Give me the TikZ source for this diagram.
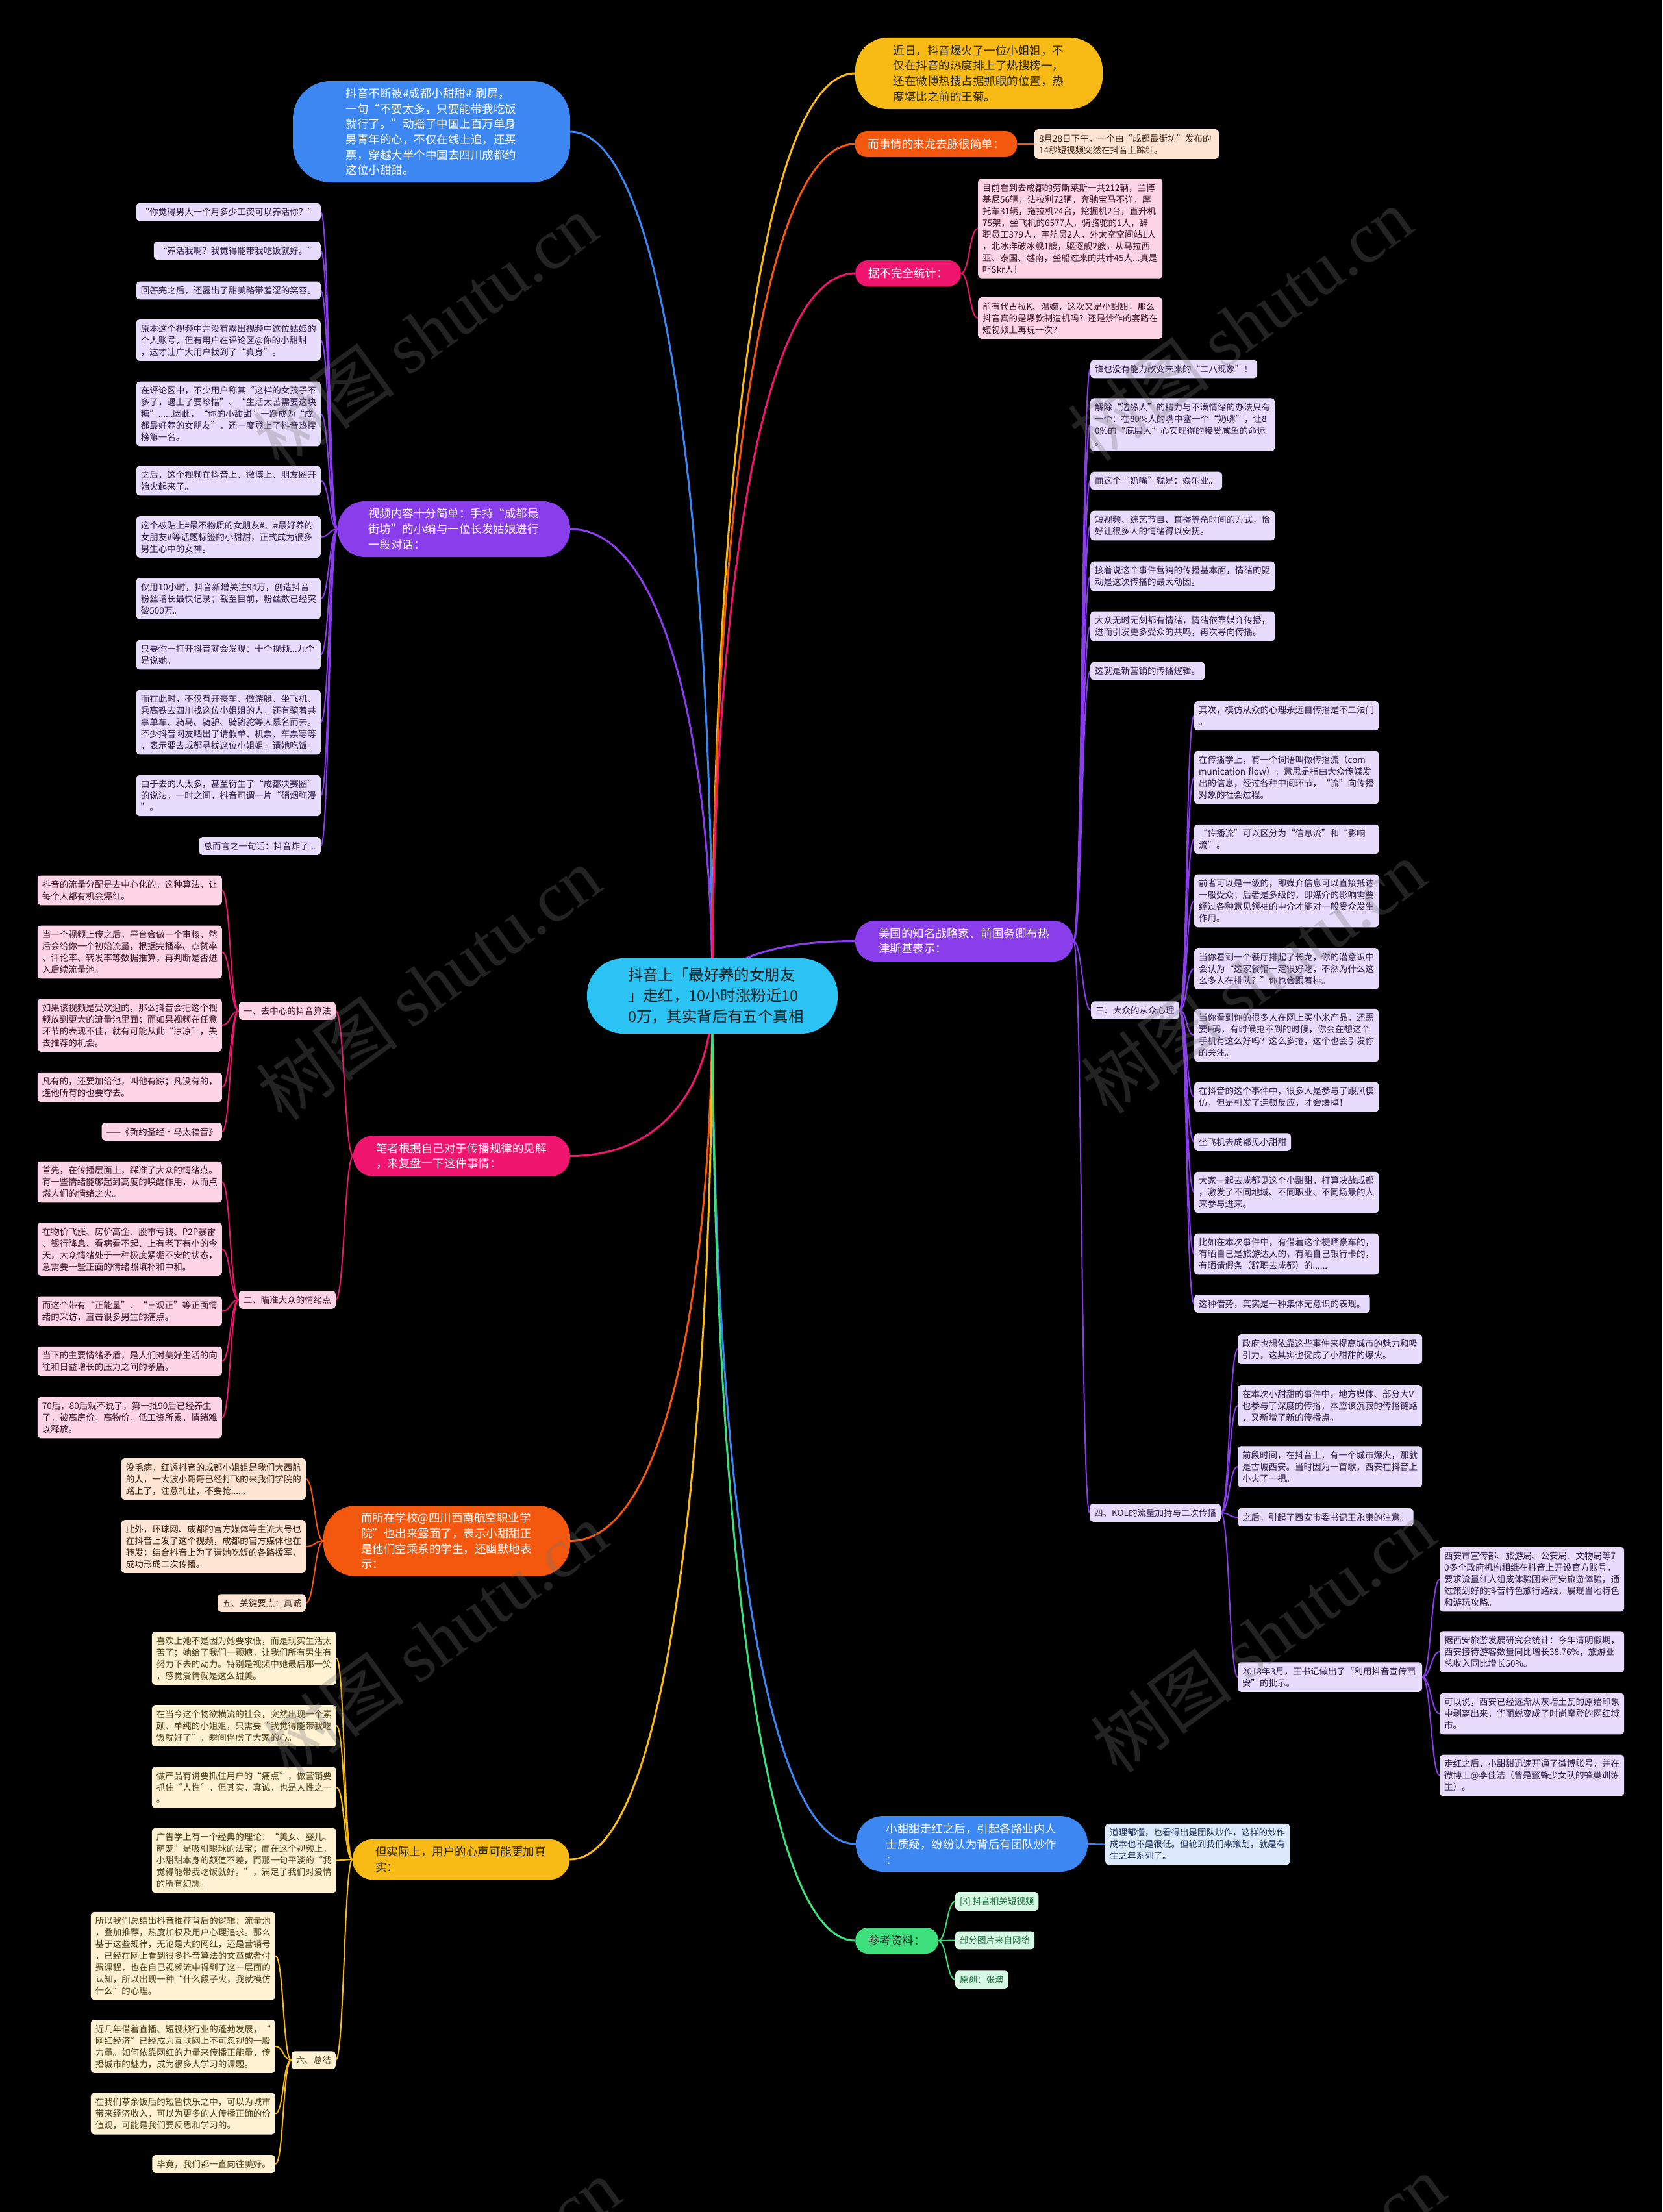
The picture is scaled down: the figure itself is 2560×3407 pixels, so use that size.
\documentclass[tikz,border=0pt]{standalone}
\usepackage{fontspec}
\setmainfont{Noto Sans CJK SC}
\newfontfamily\wmlatin{Liberation Serif}
\usetikzlibrary{calc}
\pgfdeclarelayer{bg}
\pgfdeclarelayer{fg}
\pgfsetlayers{bg,main,fg}
\definecolor{croot}{HTML}{2BC3F3}
\definecolor{cblue}{HTML}{3D87F2}
\definecolor{cpur}{HTML}{8A3DEB}
\definecolor{cpink}{HTML}{F0156F}
\definecolor{corg}{HTML}{F4580F}
\definecolor{cyel}{HTML}{F8BB16}
\definecolor{cgrn}{HTML}{3DE07D}
\definecolor{lpur}{HTML}{E7DBFC}
\definecolor{lpink}{HTML}{FDD3E6}
\definecolor{lorg}{HTML}{FDE4D3}
\definecolor{lyel}{HTML}{FEF2D2}
\definecolor{lblue}{HTML}{DCE8FC}
\definecolor{lgrn}{HTML}{D5F8E2}
\definecolor{tpur}{HTML}{2A1B45}
\definecolor{tpink}{HTML}{3A1022}
\definecolor{torg}{HTML}{3A1E0E}
\definecolor{tyel}{HTML}{4A3A12}
\definecolor{tblue}{HTML}{1C2E55}
\definecolor{tgrn}{HTML}{1D6B3C}
\definecolor{wm}{HTML}{767676}
\tikzset{
  leaf/.style={rounded corners=5pt, inner xsep=7pt, inner ysep=7.5pt, font=\fontsize{13.5}{18}\selectfont, align=left},
  ml/.style={text width=270pt},
  lpu/.style={leaf, fill=lpur, text=tpur},
  lpk/.style={leaf, fill=lpink, text=tpink},
  lor/.style={leaf, fill=lorg, text=torg},
  lye/.style={leaf, fill=lyel, text=tyel},
  lbl/.style={leaf, fill=lblue, text=tblue},
  lgr/.style={leaf, fill=lgrn, text=tgrn},
  mainnode/.style={font=\fontsize{17.5}{23.7}\selectfont, align=left, text width=264pt, inner sep=0pt},
  mainone/.style={font=\fontsize{17.5}{23.7}\selectfont, inner xsep=20pt, inner ysep=0pt, minimum height=40pt, rounded corners=19pt},
  conn/.style={line width=2pt},
  rconn/.style={line width=3pt},
}
\newcommand\rlink[2]{\draw[rconn,#1] (root.center) .. controls ($(root.center)!0.5!(root.center|-#2)$) and ($(root.center|-#2)!0.3!(#2)$) .. (#2);}
\newcommand\lkL[3]{\draw[conn,#1] (#2.west) .. controls +(-13,0) and +(13,0) .. (#3.east);}
\newcommand\lkR[3]{\draw[conn,#1] (#2.east) .. controls +(13,0) and +(-13,0) .. (#3.west);}
\begin{document}
\begin{tikzpicture}[x=1pt,y=-1pt]
\path[use as bounding box] (0,0) rectangle (2560,3407);

% root
\node[font=\fontsize{23.4}{32}\selectfont, align=left, text width=260pt, inner sep=0pt, minimum width=386pt, minimum height=116pt, rounded corners=56pt, fill=croot, text=black!88] (root) at (1097,1534) {抖音上「最好养的女朋友\\」走红，10小时涨粉近10\\0万，其实背后有五个真相};

% ---------- left main nodes
\node[mainnode, fill=cblue, text=white, minimum width=427pt, minimum height=156pt, rounded corners=58pt] (nB1) at (664.5,203) {抖音不断被\#成都小甜甜\# 刷屏，\\一句“不要太多，只要能带我吃饭\\就行了。”动摇了中国上百万单身\\男青年的心，不仅在线上追，还买\\票，穿越大半个中国去四川成都约\\这位小甜甜。};
\node[mainnode, fill=cpur, text=white, minimum width=358pt, minimum height=86pt, rounded corners=42pt] (nV) at (699,815) {视频内容十分简单：手持“成都最\\街坊”的小编与一位长发姑娘进行\\一段对话：};
\node[mainnode, fill=cpink, text=white, minimum width=334pt, minimum height=63pt, rounded corners=31pt] (nP) at (711,1780.5) {笔者根据自己对于传播规律的见解\\，来复盘一下这件事情：};
\node[mainnode, fill=corg, text=white, minimum width=380pt, minimum height=109pt, rounded corners=50pt] (nO) at (688,2373.5) {而所在学校@四川西南航空职业学\\院”也出来露面了，表示小甜甜正\\是他们空乘系的学生，还幽默地表\\示：};
\node[mainnode, fill=cyel, text=black!85, minimum width=334pt, minimum height=62pt, rounded corners=30pt] (nY) at (710,2864) {但实际上，用户的心声可能更加真\\实：};

% ---------- right main nodes
\node[mainnode, fill=cyel, text=black!85, minimum width=381pt, minimum height=110pt, rounded corners=50pt] (nR1) at (1507.5,113) {近日，抖音爆火了一位小姐姐，不\\仅在抖音的热度排上了热搜榜一，\\还在微博热搜占据抓眼的位置，热\\度堪比之前的王菊。};
\node[mainone, fill=corg, text=white] (nR2) at (1441.5,222) {而事情的来龙去脉很简单：};
\node[mainone, fill=cpink, text=white] (nR3) at (1398.5,421) {据不完全统计：};
\node[mainnode, fill=cpur, text=white, minimum width=336pt, minimum height=63pt, rounded corners=31pt] (nUS) at (1485,1449.5) {美国的知名战略家、前国务卿布热\\津斯基表示：};
\node[mainnode, fill=cblue, text=white, minimum width=357pt, minimum height=86pt, rounded corners=42pt] (nBL) at (1496.5,2840) {小甜甜走红之后，引起各路业内人\\士质疑，纷纷认为背后有团队炒作\\：};
\node[mainone, fill=cgrn, text=black!85] (nG) at (1381,2989) {参考资料：};

% ---------- purple left leaves
\node[lpu, anchor=east] (L1) at (494,326.5) {“你觉得男人一个月多少工资可以养活你？”};
\node[lpu, anchor=east] (L2) at (494,386) {“养活我啊？我觉得能带我吃饭就好。”};
\node[lpu, anchor=east] (L3) at (494,447.5) {回答完之后，还露出了甜美略带羞涩的笑容。};
\node[lpu, ml, anchor=east] (L4) at (494,524) {原本这个视频中并没有露出视频中这位姑娘的\\个人账号，但有用户在评论区@你的小甜甜\\，这才让广大用户找到了“真身”。};
\node[lpu, ml, anchor=east] (L5) at (494,637.5) {在评论区中，不少用户称其“这样的女孩子不\\多了，遇上了要珍惜”、“生活太苦需要这块\\糖”......因此，“你的小甜甜”一跃成为“成\\都最好养的女朋友”，还一度登上了抖音热搜\\榜第一名。};
\node[lpu, ml, anchor=east] (L6) at (494,740.5) {之后，这个视频在抖音上、微博上、朋友圈开\\始火起来了。};
\node[lpu, ml, anchor=east] (L7) at (494,827) {这个被贴上\#最不物质的女朋友\#、\#最好养的\\女朋友\#等话题标签的小甜甜，正式成为很多\\男生心中的女神。};
\node[lpu, ml, anchor=east] (L8) at (494,922) {仅用10小时，抖音新增关注94万，创造抖音\\粉丝增长最快记录；截至目前，粉丝数已经突\\破500万。};
\node[lpu, ml, anchor=east] (L9) at (494,1008.5) {只要你一打开抖音就会发现：十个视频...九个\\是说她。};
\node[lpu, ml, anchor=east] (L10) at (494,1112.5) {而在此时，不仅有开豪车、做游艇、坐飞机、\\乘高铁去四川找这位小姐姐的人，还有骑着共\\享单车、骑马、骑驴、骑骆驼等人慕名而去。\\不少抖音网友晒出了请假单、机票、车票等等\\，表示要去成都寻找这位小姐姐，请她吃饭。};
\node[lpu, ml, anchor=east] (L11) at (494,1225.5) {由于去的人太多，甚至衍生了“成都决赛圈”\\的说法，一时之间，抖音可谓一片“硝烟弥漫\\”。};
\node[lpu, anchor=east] (L12) at (494,1303) {总而言之一句话：抖音炸了...};

% ---------- pink left
\node[lpk, anchor=east] (S1) at (517,1557) {一、去中心的抖音算法};
\node[lpk, anchor=east] (S2) at (517,2002) {二、瞄准大众的情绪点};
\node[lpk, ml, anchor=east] (A1) at (342,1371.5) {抖音的流量分配是去中心化的，这种算法，让\\每个人都有机会爆红。};
\node[lpk, ml, anchor=east] (A2) at (342,1466.5) {当一个视频上传之后，平台会做一个审核，然\\后会给你一个初始流量，根据完播率、点赞率\\、评论率、转发率等数据推算，再判断是否进\\入后续流量池。};
\node[lpk, ml, anchor=east] (A3) at (342,1579) {如果该视频是受欢迎的，那么抖音会把这个视\\频放到更大的流量池里面；而如果视频在任意\\环节的表现不佳，就有可能从此“凉凉”，失\\去推荐的机会。};
\node[lpk, ml, anchor=east] (A4) at (342,1674.5) {凡有的，还要加给他，叫他有餘；凡没有的，\\连他所有的也要夺去。};
\node[lpk, anchor=east] (A5) at (342,1743) {——《新约圣经·马太福音》};
\node[lpk, ml, anchor=east] (B1) at (342,1820.5) {首先，在传播层面上，踩准了大众的情绪点。\\有一些情绪能够起到高度的唤醒作用，从而点\\燃人们的情绪之火。};
\node[lpk, ml, anchor=east] (B2) at (342,1924) {在物价飞涨、房价高企、股市亏钱、P2P暴雷\\、银行降息、看病看不起、上有老下有小的今\\天，大众情绪处于一种极度紧绷不安的状态，\\急需要一些正面的情绪照填补和中和。};
\node[lpk, ml, anchor=east] (B3) at (342,2019.5) {而这个带有“正能量”、“三观正”等正面情\\绪的采访，直击很多男生的痛点。};
\node[lpk, ml, anchor=east] (B4) at (342,2096.5) {当下的主要情绪矛盾，是人们对美好生活的向\\往和日益增长的压力之间的矛盾。};
\node[lpk, ml, anchor=east] (B5) at (342,2183.5) {70后，80后就不说了，第一批90后已经养生\\了，被高房价，高物价，低工资所累，情绪难\\以释放。};

% ---------- orange left
\node[lor, ml, anchor=east] (C1) at (471,2278) {没毛病，红透抖音的成都小姐姐是我们大西航\\的人，一大波小哥哥已经打飞的来我们学院的\\路上了，注意礼让，不要抢......};
\node[lor, ml, anchor=east] (C2) at (471,2382) {此外，环球网、成都的官方媒体等主流大号也\\在抖音上发了这个视频，成都的官方媒体也在\\转发；结合抖音上为了请她吃饭的各路援军，\\成功形成二次传播。};
\node[lor, anchor=east] (C3) at (471,2469) {五、关键要点：真诚};

% ---------- yellow left
\node[lye, ml, anchor=east] (D1) at (518,2554) {喜欢上她不是因为她要求低，而是现实生活太\\苦了；她给了我们一颗糖，让我们所有男生有\\努力下去的动力。特别是视频中她最后那一笑\\，感觉爱情就是这么甜美。};
\node[lye, ml, anchor=east] (D2) at (518,2658) {在当今这个物欲横流的社会，突然出现一个素\\颜、单纯的小姐姐，只需要“我觉得能带我吃\\饭就好了”，瞬间俘虏了大家的心。};
\node[lye, ml, anchor=east] (D3) at (518,2753) {做产品有讲要抓住用户的“痛点”，做营销要\\抓住“人性”，但其实，真诚，也是人性之一\\。};
\node[lye, ml, anchor=east] (D4) at (518,2865.5) {广告学上有一个经典的理论：“美女、婴儿、\\萌宠”是吸引眼球的法宝；而在这个视频上，\\小甜甜本身的颜值不差，而那一句平淡的“我\\觉得能带我吃饭就好。”，满足了我们对爱情\\的所有幻想。};
\node[lye, anchor=east] (S6) at (517,3173) {六、总结};
\node[lye, ml, anchor=east] (E1) at (424,3012.5) {所以我们总结出抖音推荐背后的逻辑：流量池\\，叠加推荐，热度加权及用户心理追求。那么\\基于这些规律，无论是大的网红，还是营销号\\，已经在网上看到很多抖音算法的文章或者付\\费课程，也在自己视频流中得到了这一层面的\\认知，所以出现一种“什么段子火，我就模仿\\什么”的心理。};
\node[lye, ml, anchor=east] (E2) at (424,3152) {近几年借着直播、短视频行业的蓬勃发展，“\\网红经济”已经成为互联网上不可忽视的一股\\力量。如何依靠网红的力量来传播正能量，传\\播城市的魅力，成为很多人学习的课题。};
\node[lye, ml, anchor=east] (E3) at (424,3255.5) {在我们茶余饭后的短暂快乐之中，可以为城市\\带来经济收入，可以为更多的人传播正确的价\\值观，可能是我们要反思和学习的。};
\node[lye, anchor=east] (E4) at (424,3333) {毕竟，我们都一直向往美好。};

% ---------- right leaves
\node[lor, ml, anchor=west] (R2a) at (1593,222) {8月28日下午，一个由“成都最街坊”发布的\\14秒短视频突然在抖音上蹿红。};
\node[lpk, ml, anchor=west] (R3a) at (1506,352) {目前看到去成都的劳斯莱斯一共212辆，兰博\\基尼56辆，法拉利72辆，奔驰宝马不详，摩\\托车31辆，拖拉机24台，挖掘机2台，直升机\\75架，坐飞机的6577人，骑骆驼的1人，辞\\职员工379人，宇航员2人，外太空空间站1人\\，北冰洋破冰舰1艘，驱逐舰2艘，从马拉西\\亚、泰国、越南，坐船过来的共计45人...真是\\吓Skr人！};
\node[lpk, ml, anchor=west] (R3b) at (1506,490) {前有代古拉K、温婉，这次又是小甜甜，那么\\抖音真的是爆款制造机吗？还是炒作的套路在\\短视频上再玩一次？};

\node[lpu, anchor=west] (P1) at (1679,568.5) {谁也没有能力改变未来的“二八现象”！};
\node[lpu, ml, anchor=west] (P2) at (1679,654) {解除“边缘人”的精力与不满情绪的办法只有\\一个：在80\%人的嘴中塞一个“奶嘴”，让8\\0\%的“底层人”心安理得的接受咸鱼的命运\\。};
\node[lpu, anchor=west] (P3) at (1679,740.5) {而这个“奶嘴”就是：娱乐业。};
\node[lpu, ml, anchor=west] (P4) at (1679,809.5) {短视频、综艺节目、直播等杀时间的方式，恰\\好让很多人的情绪得以安抚。};
\node[lpu, ml, anchor=west] (P5) at (1679,887.5) {接着说这个事件营销的传播基本面，情绪的驱\\动是这次传播的最大动因。};
\node[lpu, ml, anchor=west] (P6) at (1679,964.5) {大众无时无刻都有情绪，情绪依靠媒介传播，\\进而引发更多受众的共鸣，再次导向传播。};
\node[lpu, anchor=west] (P7) at (1679,1033.5) {这就是新营销的传播逻辑。};

\node[lpu, anchor=west] (N3) at (1680,1556) {三、大众的从众心理};
\node[lpu, ml, anchor=west] (Q1) at (1839,1102.5) {其次，模仿从众的心理永远自传播是不二法门\\。};
\node[lpu, ml, anchor=west] (Q2) at (1839,1197.5) {在传播学上，有一个词语叫做传播流（com\\munication~flow），意思是指由大众传媒发\\出的信息，经过各种中间环节，“流”向传播\\对象的社会过程。};
\node[lpu, ml, anchor=west] (Q3) at (1839,1292.5) {“传播流”可以区分为“信息流”和“影响\\流”。};
\node[lpu, ml, anchor=west] (Q4) at (1839,1387.5) {前者可以是一级的，即媒介信息可以直接抵达\\一般受众；后者是多级的，即媒介的影响需要\\经过各种意见领袖的中介才能对一般受众发生\\作用。};
\node[lpu, ml, anchor=west] (Q5) at (1839,1492) {当你看到一个餐厅排起了长龙，你的潜意识中\\会认为“这家餐馆一定很好吃，不然为什么这\\么多人在排队？”你也会跟着排。};
\node[lpu, ml, anchor=west] (Q6) at (1839,1594.5) {当你看到你的很多人在网上买小米产品，还需\\要F码，有时候抢不到的时候，你会在想这个\\手机有这么好吗？这么多抢，这个也会引发你\\的关注。};
\node[lpu, ml, anchor=west] (Q7) at (1839,1689.5) {在抖音的这个事件中，很多人是参与了跟风模\\仿，但是引发了连锁反应，才会爆掉！};
\node[lpu, anchor=west] (Q8) at (1839,1759) {坐飞机去成都见小甜甜};
\node[lpu, ml, anchor=west] (Q9) at (1839,1836.5) {大家一起去成都见这个小甜甜，打算决战成都\\，激发了不同地域、不同职业、不同场景的人\\来参与进来。};
\node[lpu, ml, anchor=west] (Q10) at (1839,1931.5) {比如在本次事件中，有借着这个梗晒豪车的，\\有晒自己是旅游达人的，有晒自己银行卡的，\\有晒请假条（辞职去成都）的......};
\node[lpu, anchor=west] (Q11) at (1839,2008) {这种借势，其实是一种集体无意识的表现。};

\node[lpu, anchor=west] (N4) at (1678,2330) {四、KOL的流量加持与二次传播};
\node[lpu, ml, anchor=west] (K1) at (1906,2078) {政府也想依靠这些事件来提高城市的魅力和吸\\引力，这其实也促成了小甜甜的爆火。};
\node[lpu, ml, anchor=west] (K2) at (1906,2165) {在本次小甜甜的事件中，地方媒体、部分大V\\也参与了深度的传播，本应该沉寂的传播链路\\，又新增了新的传播点。};
\node[lpu, ml, anchor=west] (K3) at (1906,2259) {前段时间，在抖音上，有一个城市爆火，那就\\是古城西安。当时因为一首歌，西安在抖音上\\小火了一把。};
\node[lpu, anchor=west] (K4) at (1906,2337) {之后，引起了西安市委书记王永康的注意。};
\node[lpu, ml, anchor=west] (K5) at (1906,2583) {2018年3月，王书记做出了“利用抖音宣传西\\安”的批示。};
\node[lpu, ml, anchor=west] (K5a) at (2217,2432.5) {西安市宣传部、旅游局、公安局、文物局等7\\0多个政府机构相继在抖音上开设官方账号，\\要求流量红人组成体验团来西安旅游体验，通\\过策划好的抖音特色旅行路线，展现当地特色\\和游玩攻略。};
\node[lpu, ml, anchor=west] (K5b) at (2217,2544) {据西安旅游发展研究会统计：今年清明假期，\\西安接待游客数量同比增长38.76\%，旅游业\\总收入同比增长50\%。};
\node[lpu, ml, anchor=west] (K5c) at (2217,2639.5) {可以说，西安已经逐渐从灰墙土瓦的原始印象\\中剥离出来，华丽蜕变成了时尚摩登的网红城\\市。};
\node[lpu, ml, anchor=west] (K5d) at (2217,2734.5) {走红之后，小甜甜迅速开通了微博账号，并在\\微博上@李佳洁（曾是蜜蜂少女队的蜂巢训练\\生）。};

\node[lbl, ml, anchor=west] (BLa) at (1702,2840.5) {道理都懂，也看得出是团队炒作，这样的炒作\\成本也不是很低。但轮到我们来策划，就是有\\生之年系列了。};
\node[lgr, anchor=west] (G1) at (1471,2928.5) {[3] 抖音相关短视频};
\node[lgr, anchor=west] (G2) at (1471,2988.5) {部分图片来自网络};
\node[lgr, anchor=west] (G3) at (1471,3049) {原创：张澳};

% ---------- connectors
\begin{pgfonlayer}{bg}
\fill[black] (0,0) rectangle (2560,3407);
\rlink{cblue}{nB1.east}
\rlink{cpur}{nV.east}
\rlink{cpink}{nP.east}
\rlink{corg}{nO.east}
\rlink{cyel}{nY.east}
\rlink{cyel}{nR1.west}
\rlink{corg}{nR2.west}
\rlink{cpink}{nR3.west}
\rlink{cpur}{nUS.west}
\rlink{cblue}{nBL.west}
\rlink{cgrn}{nG.west}
\foreach \i in {1,...,12} {\lkL{cpur}{nV}{L\i}}
\lkL{cpink}{nP}{S1}
\lkL{cpink}{nP}{S2}
\foreach \i in {1,...,5} {\lkL{cpink}{S1}{A\i}\lkL{cpink}{S2}{B\i}}
\foreach \i in {1,2,3} {\lkL{corg}{nO}{C\i}}
\foreach \i in {1,...,4} {\lkL{cyel}{nY}{D\i}\lkL{cyel}{S6}{E\i}}
\lkL{cyel}{nY}{S6}
\lkR{corg}{nR2}{R2a}
\lkR{cpink}{nR3}{R3a}
\lkR{cpink}{nR3}{R3b}
\foreach \i in {1,...,7} {\lkR{cpur}{nUS}{P\i}}
\lkR{cpur}{nUS}{N3}
\lkR{cpur}{nUS}{N4}
\foreach \i in {1,...,11} {\lkR{cpur}{N3}{Q\i}}
\foreach \i in {1,...,5} {\lkR{cpur}{N4}{K\i}}
\foreach \i in {a,b,c,d} {\lkR{cpur}{K5}{K5\i}}
\lkR{cblue}{nBL}{BLa}
\foreach \i in {1,2,3} {\lkR{cgrn}{nG}{G\i}}
\end{pgfonlayer}

% ---------- watermark
\begin{pgfonlayer}{fg}
\foreach \wx/\wy in {655/510, 1910/500, 660/1515, 1930/1505, 670/2525, 1945/2520, 690/3535, 1960/3530}
  {\node[rotate=36, text=wm, opacity=0.3, font=\fontsize{110}{110}\selectfont, inner sep=0pt] at (\wx,\wy) {树图 {\wmlatin shutu.cn}};}
\end{pgfonlayer}
\end{tikzpicture}
\end{document}
